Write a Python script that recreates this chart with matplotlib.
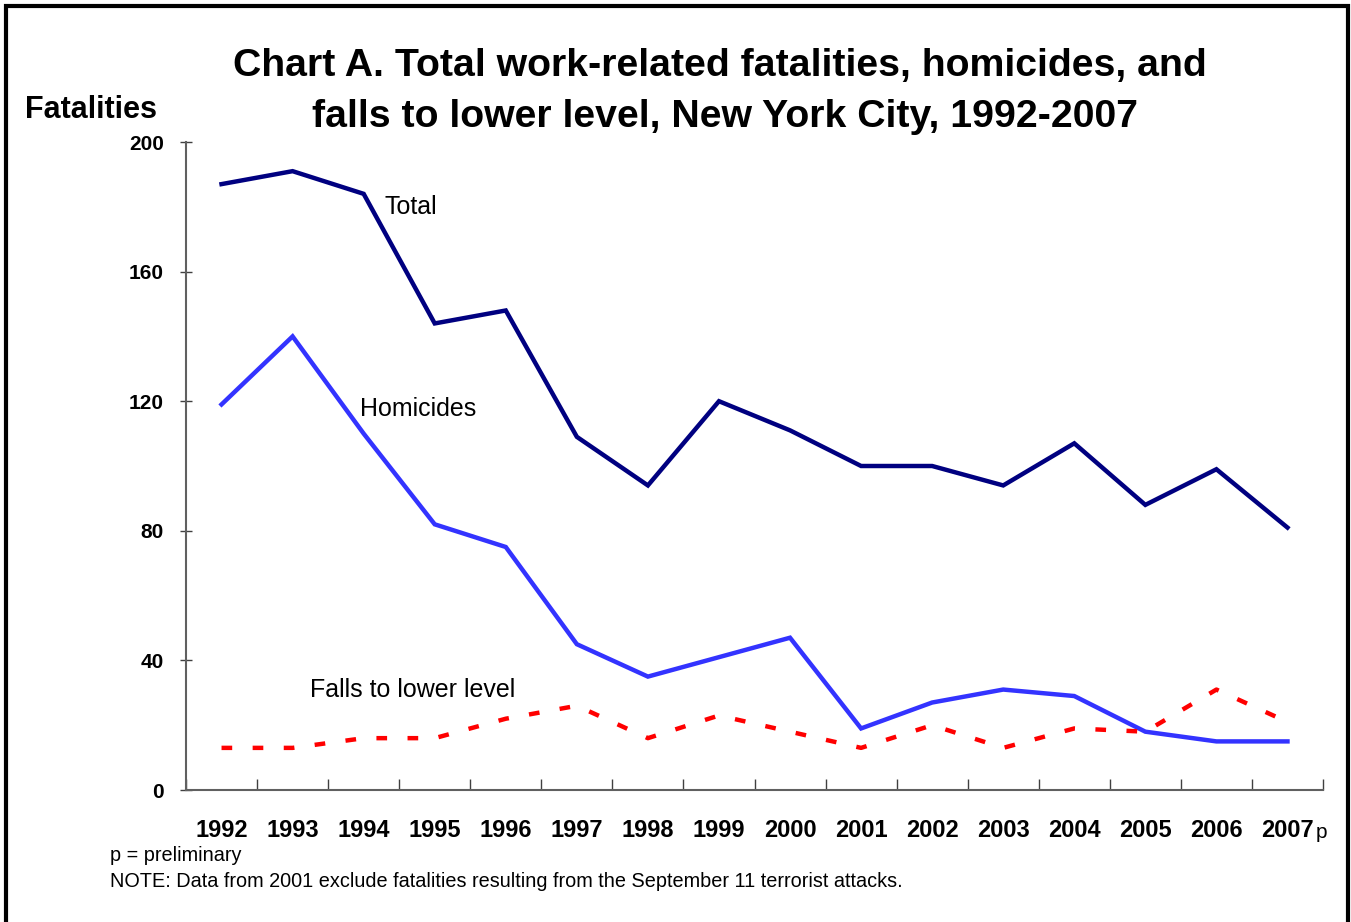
import matplotlib
matplotlib.use("Agg")
import matplotlib.pyplot as plt
from matplotlib.patches import Rectangle

plt.rcParams["font.family"] = ["Liberation Sans", "DejaVu Sans"]

# datos
years = [str(y) for y in range(1992, 2008)]
total = [187, 191, 184, 144, 148, 109, 94, 120, 111, 100, 100, 94, 107, 88, 99, 81]
homicides = [119, 140, 110, 82, 75, 45, 35, 41, 47, 19, 27, 31, 29, 18, 15, 15]
falls = [13, 13, 16, 16, 22, 26, 16, 23, 18, 13, 20, 13, 19, 18, 31, 21]
yticks = [0, 40, 80, 120, 160, 200]

W, H = 1351, 922
fig = plt.figure(figsize=(W / 100, H / 100), dpi=100)
ax = fig.add_axes([186 / W, (H - 790) / H, (1323 - 186) / W, 648 / H])

x = list(range(len(years)))
ax.plot(x, total, color="#000080", lw=3.2, solid_joinstyle="miter")
ax.plot(x, homicides, color="#3333FF", lw=3.2, solid_joinstyle="miter")
ax.plot(x, falls, color="#FF0000", lw=3.2, dashes=(2.4, 4.6), dash_capstyle="butt")

ax.set_xlim(-0.5, len(years) - 0.5)
ax.set_ylim(0, 200)
ax.set_yticks(yticks)
ax.set_yticklabels([str(v) for v in yticks], fontsize=15, fontweight="bold")
ax.set_xticks(x)
ax.set_xticklabels(years, fontsize=17, fontweight="bold")
ax.set_xticks([i - 0.5 for i in range(len(years) + 1)], minor=True)
ax.tick_params(axis="x", which="major", length=0, pad=21)
ax.tick_params(axis="x", which="minor", length=8, direction="in", color="#404040", width=1)
ax.tick_params(axis="y", length=8, direction="inout", color="#404040", width=1, pad=12)

for s in ["top", "right"]:
    ax.spines[s].set_visible(False)
for s in ["left", "bottom"]:
    ax.spines[s].set_color("#606060")
    ax.spines[s].set_linewidth(1.5)

# etiquetas de series
ax.text(2.3, 180, "Total", fontsize=18, va="center")
ax.text(1.95, 117.5, "Homicides", fontsize=18, va="center")
ax.text(1.25, 31, "Falls to lower level", fontsize=18, va="center")

# titulos y notas
fig.text(720 / W, 1 - 66 / H, "Chart A. Total work-related fatalities, homicides, and",
         fontsize=28.3, fontweight="bold", ha="center", va="center")
fig.text(725 / W, 1 - 117 / H, "falls to lower level, New York City, 1992-2007",
         fontsize=28.3, fontweight="bold", ha="center", va="center")
fig.text(25 / W, 1 - 110 / H, "Fatalities", fontsize=22, fontweight="bold", ha="left", va="center")
fig.text(1316 / W, 1 - 832 / H, "p", fontsize=15, ha="left", va="center")
fig.text(110 / W, 1 - 855 / H, "p = preliminary", fontsize=14.3, ha="left", va="center")
fig.text(110 / W, 1 - 881 / H,
         "NOTE: Data from 2001 exclude fatalities resulting from the September 11 terrorist attacks.",
         fontsize=14.3, ha="left", va="center")

# marco exterior
fig.patches.append(Rectangle((6 / W, -0.02), (1348 - 6) / W, 1.02 - 6 / H,
                             transform=fig.transFigure, fill=False, lw=3, ec="black"))

fig.savefig("out.png", dpi=100)
